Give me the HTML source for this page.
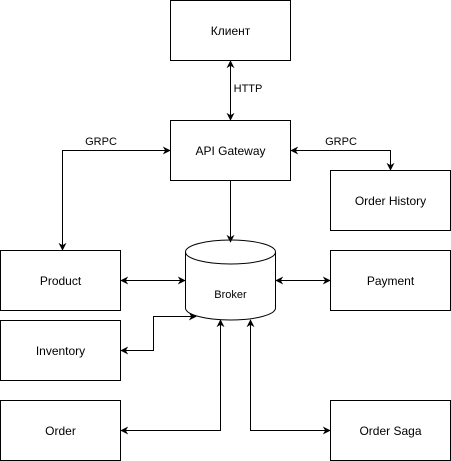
<!DOCTYPE html>
<html><head><meta charset="utf-8"><style>
html,body{margin:0;padding:0;background:#fff;}
svg{display:block;}
text{font-family:"Liberation Sans","DejaVu Sans",sans-serif;fill:#000;}
</style></head><body>
<svg width="451" height="461" viewBox="0 0 451 461" xmlns="http://www.w3.org/2000/svg">
<defs>
<marker id="a" viewBox="0 0 10 10" refX="9" refY="5" markerWidth="8" markerHeight="8" orient="auto-start-reverse" markerUnits="userSpaceOnUse">
<path d="M0,0 L10,5 L0,10 L3,5 Z" fill="#000"/>
</marker>
</defs>
<g fill="#fff" stroke="#000" stroke-width="1">
<rect x="170.5" y="0.5" width="120" height="60"/>
<rect x="170.5" y="120.5" width="120" height="60"/>
<rect x="330.5" y="170.5" width="120" height="60"/>
<rect x="0.5" y="250.5" width="120" height="60"/>
<rect x="330.5" y="250.5" width="120" height="60"/>
<rect x="0.5" y="320.5" width="120" height="60"/>
<rect x="0.5" y="400.5" width="120" height="60"/>
<rect x="330.5" y="400.5" width="120" height="60"/>
<path d="M185.5,252 A45,12 0 0 1 275.5,252 L275.5,308 A45,12 0 0 1 185.5,308 Z"/>
<path d="M185.5,252 A45,12 0 0 0 275.5,252" fill="none"/>
</g>
<g fill="none" stroke="#000" stroke-width="1">
<line x1="230.5" y1="61" x2="230.5" y2="120" marker-start="url(#a)" marker-end="url(#a)"/>
<polyline points="170,150.5 62.5,150.5 62.5,250" marker-start="url(#a)" marker-end="url(#a)"/>
<polyline points="291,150.5 390.5,150.5 390.5,170" marker-start="url(#a)" marker-end="url(#a)"/>
<line x1="230.5" y1="181" x2="230.5" y2="242" marker-end="url(#a)"/>
<line x1="121" y1="280.5" x2="185" y2="280.5" marker-start="url(#a)" marker-end="url(#a)"/>
<line x1="276" y1="280.5" x2="330" y2="280.5" marker-start="url(#a)" marker-end="url(#a)"/>
<polyline points="121,350.5 153.5,350.5 153.5,316.5 196,316.5" marker-start="url(#a)" marker-end="url(#a)"/>
<polyline points="121,430.5 220.5,430.5 220.5,320" marker-start="url(#a)" marker-end="url(#a)"/>
<polyline points="250.5,320 250.5,430.5 330,430.5" marker-start="url(#a)" marker-end="url(#a)"/>
</g>
<g font-size="12" text-anchor="middle">
<text x="230.5" y="35">Клиент</text>
<text x="230.5" y="155">API Gateway</text>
<text x="390.5" y="205">Order History</text>
<text x="60.5" y="285">Product</text>
<text x="390.5" y="285">Payment</text>
<text x="60.5" y="355">Inventory</text>
<text x="60.5" y="435">Order</text>
<text x="390.5" y="435">Order Saga</text>
</g>
<g font-size="11" text-anchor="middle">
<text x="230.5" y="298">Broker</text>
<text x="248" y="92">HTTP</text>
<text x="101" y="145">GRPC</text>
<text x="341" y="145">GRPC</text>
</g>
</svg>
</body></html>
